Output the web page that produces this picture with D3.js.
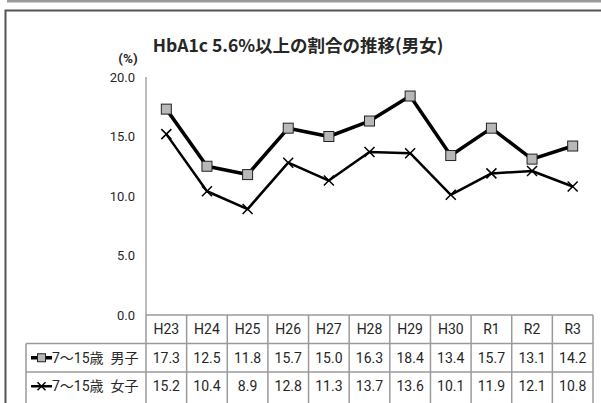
<!DOCTYPE html>
<html>
<head>
<meta charset="utf-8">
<script src="https://cdn.jsdelivr.net/npm/d3@7"></script>
<style>
  body { margin: 0; background: #fff; }
  svg { display: block; }
  text { font-family: Roboto, "Noto Sans CJK JP", sans-serif; fill: #262626; }
</style>
</head>
<body>
<div id="chart"></div>
<script>
// Data
const years = ['H23', 'H24', 'H25', 'H26', 'H27', 'H28', 'H29', 'H30', 'R1', 'R2', 'R3'];
const boys = [17.3, 12.5, 11.8, 15.7, 15.0, 16.3, 18.4, 13.4, 15.7, 13.1, 14.2];
const girls = [15.2, 10.4, 8.9, 12.8, 11.3, 13.7, 13.6, 10.1, 11.9, 12.1, 10.8];
const yTicks = [0, 5, 10, 15, 20];
const seriesNames = ['7～15歳  男子', '7～15歳  女子'];

const width = 601, height = 403;
const plotL = 146, plotR = 593, plotT = 77, plotB = 315;
const rowH = 28.5;

const svg = d3.select('#chart').append('svg')
    .attr('width', width)
    .attr('height', height);

// outer frame
svg.append('rect').attr('x', 7).attr('y', 0).attr('width', 594).attr('height', 2.5).attr('fill', '#9a9a9a');
svg.append('path').attr('d', `M5.5,${height} V10.5 H${width}`)
    .attr('fill', 'none').attr('stroke', '#555').attr('stroke-width', 2);

const x = d3.scaleBand().domain(years).range([plotL, plotR]);
const y = d3.scaleLinear().domain([0, 20]).range([plotB, plotT]);

// title
svg.append('text')
    .attr('x', 298).attr('y', 52)
    .attr('text-anchor', 'middle')
    .style('font-family', '"Noto Sans CJK JP", sans-serif')
    .style('font-size', '17.5px').style('font-weight', 'bold')
    .text('HbA1c 5.6%以上の割合の推移(男女)');

svg.append('text')
    .attr('x', 128).attr('y', 63)
    .attr('text-anchor', 'middle')
    .style('font-size', '13.5px').style('font-weight', 'bold')
    .text('(%)');

// y axis
const yAxis = svg.append('g')
    .attr('transform', `translate(${plotL},0)`)
    .call(d3.axisLeft(y).tickValues(yTicks).tickFormat(d3.format('.1f')).tickSize(0).tickPadding(11));
yAxis.select('.domain').remove();
yAxis.selectAll('text').style('font-size', '13px').style('font-family', 'Roboto, sans-serif').attr('fill', '#333');
svg.append('line').attr('x1', plotL).attr('x2', plotL).attr('y1', plotT).attr('y2', plotB)
    .attr('stroke', '#a6a6a6').attr('stroke-width', 1.5);

// lines
const line = d3.line().x((d, i) => x(years[i]) + x.bandwidth() / 2).y(d => y(d));

svg.append('path').datum(boys).attr('d', line)
    .attr('fill', 'none').attr('stroke', '#000').attr('stroke-width', 3.5).attr('stroke-linejoin', 'round');
svg.append('path').datum(girls).attr('d', line)
    .attr('fill', 'none').attr('stroke', '#000').attr('stroke-width', 2.5).attr('stroke-linejoin', 'round');

function square(g, cx, cy, s) {
    g.append('rect').attr('x', cx - s / 2).attr('y', cy - s / 2).attr('width', s).attr('height', s)
        .attr('fill', '#b8b8b8').attr('stroke', '#222').attr('stroke-width', 1);
}
function cross(g, cx, cy, s) {
    g.append('path').attr('d', `M${cx - s / 2},${cy - s / 2}L${cx + s / 2},${cy + s / 2}M${cx - s / 2},${cy + s / 2}L${cx + s / 2},${cy - s / 2}`)
        .attr('stroke', '#000').attr('stroke-width', 1.5);
}

const marks = svg.append('g');
boys.forEach((v, i) => square(marks, x(years[i]) + x.bandwidth() / 2, y(v), 10));
girls.forEach((v, i) => cross(marks, x(years[i]) + x.bandwidth() / 2, y(v), 10));

// data table
const grid = svg.append('g').attr('stroke', '#9a9a9a').attr('stroke-width', 1.5);
grid.append('line').attr('x1', plotL).attr('x2', plotR).attr('y1', plotB).attr('y2', plotB);
[1, 2].forEach(r => grid.append('line').attr('x1', 26).attr('x2', plotR)
    .attr('y1', plotB + r * rowH).attr('y2', plotB + r * rowH));
grid.append('line').attr('x1', 26).attr('x2', 26).attr('y1', plotB + rowH).attr('y2', height);
years.forEach(c => grid.append('line').attr('x1', x(c) + x.bandwidth()).attr('x2', x(c) + x.bandwidth())
    .attr('y1', plotB).attr('y2', height));
grid.append('line').attr('x1', plotL).attr('x2', plotL).attr('y1', plotB).attr('y2', height);

const cellText = (tx, ty, t) => svg.append('text').attr('x', tx).attr('y', ty)
    .attr('text-anchor', 'middle').style('font-size', '14px').text(t);

years.forEach((c, i) => {
    const cx = x(c) + x.bandwidth() / 2;
    cellText(cx, plotB + rowH / 2 + 5, c);
    cellText(cx, plotB + rowH * 1.5 + 5, boys[i].toFixed(1));
    cellText(cx, plotB + rowH * 2.5 + 5, girls[i].toFixed(1));
});

// legend cells
[0, 1].forEach(r => {
    const cy = plotB + rowH * (1.5 + r);
    svg.append('line').attr('x1', 31).attr('x2', 52).attr('y1', cy).attr('y2', cy)
        .attr('stroke', '#000').attr('stroke-width', r === 0 ? 3.5 : 2.5);
    if (r === 0) square(svg, 41.5, cy, 8); else cross(svg, 41.5, cy, 8);
    svg.append('text').attr('x', 52).attr('y', cy + 5)
        .style('font-size', '14px').style('white-space', 'pre')
        .text(seriesNames[r]);
});
</script>
</body>
</html>
